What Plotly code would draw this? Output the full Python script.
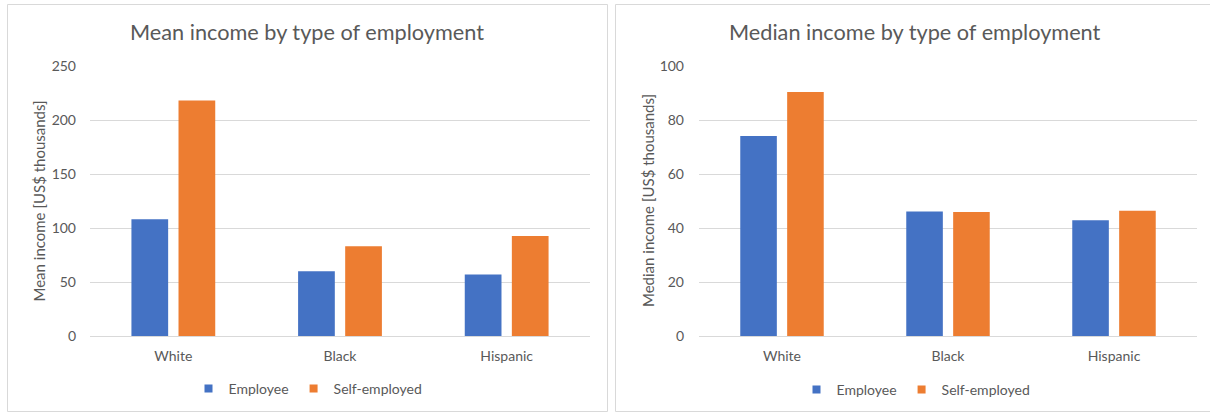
import plotly.graph_objects as go

# Income by race and type of employment (US$ thousands)
groups = ["White", "Black", "Hispanic"]
series_names = ["Employee", "Self-employed"]
mean_employee = [108, 60, 57]
mean_self = [218, 83, 92.5]
median_employee = [74.1, 46.1, 42.9]
median_self = [90.4, 45.9, 46.4]
mean_ticks = [0, 50, 100, 150, 200, 250]
median_ticks = [0, 20, 40, 60, 80, 100]

W, H = 1210, 414
BLUE = "#4472C4"
ORANGE = "#ED7D31"
TEXT = "#595959"
GRID = "#D9D9D9"
FONT = "Lato, Carlito, Calibri, sans-serif"


def px_x(v):
    return v / W


def px_y(v):
    return 1 - v / H


fig = go.Figure()

panels = [
    ("x", "y", "legend", mean_employee, mean_self),
    ("x2", "y2", "legend2", median_employee, median_self),
]
for xa, ya, lg, emp, selfemp in panels:
    for name, vals, col in zip(series_names, [emp, selfemp], [BLUE, ORANGE]):
        fig.add_trace(go.Bar(
            x=groups, y=vals, name=name, marker_color=col,
            marker_line_width=0, xaxis=xa, yaxis=ya,
            showlegend=False, offsetgroup=name,
        ))
    # small square legend keys
    for name, col in zip(series_names, [BLUE, ORANGE]):
        fig.add_trace(go.Scatter(
            x=[None], y=[None], mode="markers", name=name,
            marker=dict(symbol="square", size=8, color=col),
            xaxis=xa, yaxis=ya, legend=lg, showlegend=True,
        ))

ydom = [px_y(336), px_y(66)]
axis_font = dict(family=FONT, size=14, color=TEXT)

fig.update_layout(
    width=W, height=H,
    margin=dict(l=0, r=0, t=0, b=0, autoexpand=False),
    paper_bgcolor="white", plot_bgcolor="white",
    barmode="group", bargap=0.435, bargroupgap=0.22,
    font=dict(family=FONT, color=TEXT),
    xaxis=dict(domain=[px_x(90), px_x(590)], anchor="y",
               showgrid=False, showline=False, ticks="",
               tickfont=axis_font, ticklabelstandoff=10),
    xaxis2=dict(domain=[px_x(699), px_x(1197)], anchor="y2",
                showgrid=False, showline=False, ticks="",
                tickfont=axis_font, ticklabelstandoff=10),
    yaxis=dict(domain=ydom, range=[0, 250], tickvals=mean_ticks,
               showgrid=True, gridcolor=GRID, gridwidth=1,
               zeroline=True, zerolinecolor=GRID, zerolinewidth=1,
               showline=False, ticks="", tickfont=axis_font,
               ticklabelstandoff=13),
    yaxis2=dict(domain=ydom, range=[0, 100], tickvals=median_ticks,
                anchor="x2",
                showgrid=True, gridcolor=GRID, gridwidth=1,
                zeroline=True, zerolinecolor=GRID, zerolinewidth=1,
                showline=False, ticks="", tickfont=axis_font,
                ticklabelstandoff=14),
    legend=dict(orientation="h", x=px_x(308), xanchor="center",
                y=px_y(389), yanchor="middle",
                font=dict(family=FONT, size=14, color=TEXT),
                bgcolor="rgba(0,0,0,0)"),
    legend2=dict(orientation="h", x=px_x(916), xanchor="center",
                 y=px_y(390), yanchor="middle",
                 font=dict(family=FONT, size=14, color=TEXT),
                 bgcolor="rgba(0,0,0,0)"),
)

# chart-area frames
for x0, x1 in [(7.5, 607.5), (615.5, 1214)]:
    fig.add_shape(type="rect", xref="paper", yref="paper",
                  x0=px_x(x0), x1=px_x(x1), y0=px_y(411.5), y1=px_y(4.5),
                  line=dict(color=GRID, width=1), fillcolor="rgba(0,0,0,0)",
                  layer="below")

# chart titles and axis titles
titles = [("Mean income by type of employment", 307),
          ("Median income by type of employment", 915)]
for text, cx in titles:
    fig.add_annotation(text=text, xref="paper", yref="paper",
                       x=px_x(cx), y=px_y(32), xanchor="center",
                       yanchor="middle", showarrow=False,
                       font=dict(family=FONT, size=21.7, color=TEXT))

ytitles = [("Mean income [US$ thousands]", 38.5),
           ("Median income [US$ thousands]", 648)]
for text, cx in ytitles:
    fig.add_annotation(text=text, xref="paper", yref="paper",
                       x=px_x(cx), y=px_y(201), xanchor="center",
                       yanchor="middle", textangle=-90, showarrow=False,
                       font=dict(family=FONT, size=15, color=TEXT))

fig.write_html("out.html")
